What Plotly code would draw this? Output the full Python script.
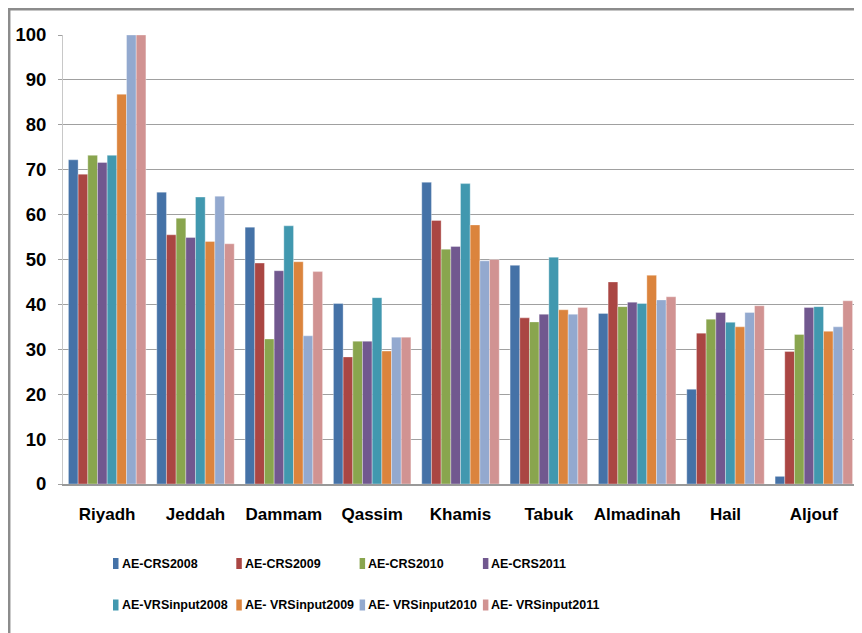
import plotly.graph_objects as go

categories = ["Riyadh", "Jeddah", "Dammam", "Qassim", "Khamis", "Tabuk", "Almadinah", "Hail", "Aljouf"]

series_names = ["AE-CRS2008", "AE-CRS2009", "AE-CRS2010", "AE-CRS2011",
                "AE-VRSinput2008", "AE- VRSinput2009", "AE- VRSinput2010", "AE- VRSinput2011"]

ae_crs2008 = [72.2, 65.0, 57.2, 40.2, 67.2, 48.7, 38.0, 21.1, 1.7]
ae_crs2009 = [69.0, 55.5, 49.2, 28.3, 58.7, 37.0, 45.0, 33.6, 29.5]
ae_crs2010 = [73.2, 59.2, 32.3, 31.8, 52.3, 36.1, 39.5, 36.7, 33.3]
ae_crs2011 = [71.6, 54.9, 47.5, 31.8, 52.9, 37.8, 40.5, 38.2, 39.3]
ae_vrs2008 = [73.2, 63.9, 57.5, 41.5, 66.9, 50.5, 40.2, 36.0, 39.5]
ae_vrs2009 = [86.8, 54.0, 49.5, 29.6, 57.7, 38.8, 46.5, 35.0, 34.0]
ae_vrs2010 = [100.0, 64.1, 33.0, 32.7, 49.7, 37.8, 41.0, 38.2, 35.0]
ae_vrs2011 = [100.0, 53.5, 47.3, 32.7, 50.0, 39.3, 41.7, 39.7, 40.8]

values = [ae_crs2008, ae_crs2009, ae_crs2010, ae_crs2011,
          ae_vrs2008, ae_vrs2009, ae_vrs2010, ae_vrs2011]

colors = ["#4572A7", "#AA4643", "#89A54E", "#71588F",
          "#4198AF", "#DB843D", "#93A9CF", "#D19392"]

y_ticks = [0, 10, 20, 30, 40, 50, 60, 70, 80, 90, 100]

FONT = "Liberation Sans, Arial, sans-serif"

fig = go.Figure()
for name, vals, col in zip(series_names, values, colors):
    fig.add_trace(go.Bar(
        x=categories, y=vals, name=name,
        marker=dict(color=col, line=dict(color="rgba(255,255,255,0.55)", width=0.6)),
        showlegend=False,
    ))

# The page body adds an 8px offset, so the figure is 8px smaller than the window.
OFF = 8
W, H = 862 - OFF, 633 - OFF
L, R, T, B = 55, 4, 27, 149
pw = W - L - R
ph = H - T - B


def px_x(p):
    """screen pixel -> paper x"""
    return (p - OFF - L) / pw


def px_y(p):
    """screen pixel -> paper y"""
    return (H - B - (p - OFF)) / ph


# Custom legend (2 rows x 4 columns) built from the series names / colours
shapes = []
annotations = []
col_x0, col_step = 113, 123.3
row_y = [563.5, 605]
for i, (name, col) in enumerate(zip(series_names, colors)):
    r, c = divmod(i, 4)
    mx = col_x0 + c * col_step
    my = row_y[r]
    shapes.append(dict(type="rect", xref="paper", yref="paper",
                       x0=px_x(mx), x1=px_x(mx + 5.5), y0=px_y(my - 5.5), y1=px_y(my + 5.5),
                       fillcolor=col, line=dict(width=0)))
    annotations.append(dict(xref="paper", yref="paper", x=px_x(mx + 6.5), y=px_y(my),
                            xanchor="left", yanchor="middle", showarrow=False, text=name,
                            font=dict(family=FONT, size=12.5, color="#000000", weight="bold")))

# chart-area frame (top and left edges visible in the reference)
shapes.append(dict(type="line", xref="paper", yref="paper", x0=px_x(8), x1=px_x(875),
                   y0=px_y(9.2), y1=px_y(9.2), line=dict(color="#8C8C8C", width=2.5)))
shapes.append(dict(type="line", xref="paper", yref="paper", x0=px_x(9.2), x1=px_x(9.2),
                   y0=px_y(8), y1=px_y(650), line=dict(color="#8C8C8C", width=2.5)))

fig.update_layout(
    width=W, height=H,
    margin=dict(l=L, r=R, t=T, b=B, autoexpand=False),
    paper_bgcolor="white", plot_bgcolor="white",
    barmode="group", bargap=0.123, bargroupgap=0,
    showlegend=False,
    font=dict(family=FONT, size=17, color="#000000", weight="bold"),
    xaxis=dict(
        showgrid=False, showline=True, linecolor="#999999", linewidth=1.5,
        ticks="", ticklabelstandoff=14,
        tickfont=dict(family=FONT, size=17, color="#000000", weight="bold"),
    ),
    yaxis=dict(
        range=[0, 100], tickvals=y_ticks, showgrid=True, gridcolor="#A0A0A0", gridwidth=1.2,
        zeroline=False, showline=True, linecolor="#C8C8C8", linewidth=1,
        ticks="outside", ticklen=4, tickcolor="#A0A0A0",
        ticklabelstandoff=8,
        tickfont=dict(family=FONT, size=18.5, color="#000000", weight="bold"),
    ),
    shapes=shapes,
    annotations=annotations,
)

fig.write_html("out.html")
